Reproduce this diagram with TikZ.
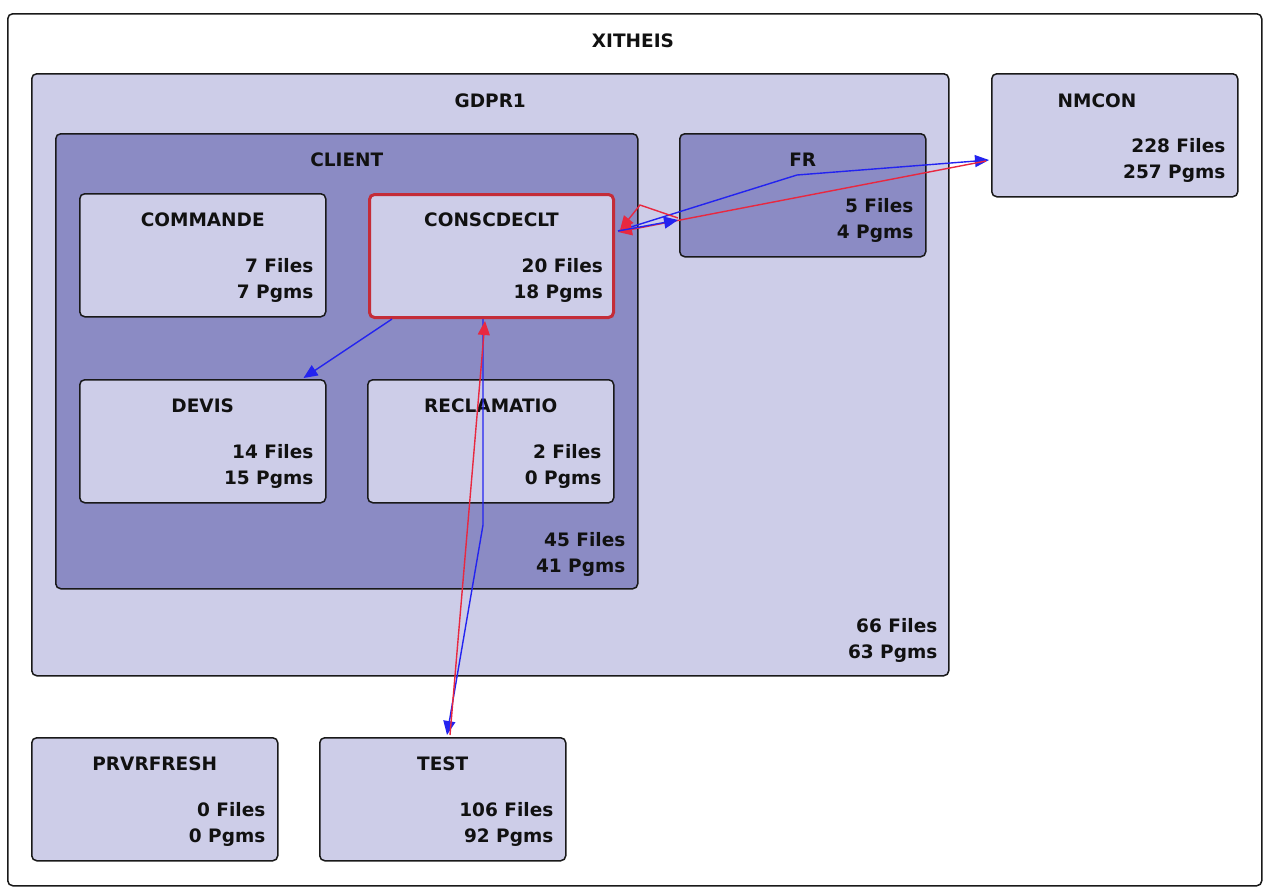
\documentclass[tikz,border=0pt]{standalone}
\usepackage{fontspec}
\setmainfont{DejaVu Sans}
\usetikzlibrary{arrows.meta,calc}
\definecolor{lightlav}{RGB}{205,205,232}
\definecolor{darklav}{RGB}{139,139,196}
\definecolor{boxred}{RGB}{196,44,56}
\definecolor{arrblue}{RGB}{35,35,240}
\definecolor{arrred}{RGB}{232,40,64}
\definecolor{txt}{RGB}{17,17,17}
\begin{document}
\begin{tikzpicture}[x=1pt,y=-1pt,
  boxbase/.style={draw=black!90,line width=1.5pt,rounded corners=5pt,inner sep=0pt,anchor=north west},
  lbox/.style={boxbase,fill=lightlav},
  dbox/.style={boxbase,fill=darklav},
  ttl/.style={anchor=base,font=\fontsize{18.5}{20}\selectfont\bfseries,text=txt,inner sep=0pt},
  num/.style={anchor=base east,font=\fontsize{18.5}{20}\selectfont\bfseries,text=txt,inner sep=0pt},
  bluearr/.style={draw=arrblue,line width=1.4pt,-{Triangle[length=14pt,width=12pt]}},
  redarr/.style={draw=arrred,line width=1.4pt,-{Triangle[length=14pt,width=12pt]}}
]
\useasboundingbox (0,0) rectangle (1268,894);
\fill[white] (0,0) rectangle (1268,894);
% outer
\node[boxbase,fill=white,minimum width=1254pt,minimum height=872pt] (xitheis) at (7,13) {};
\node[ttl] (xitheis-t) at (633,47.5) {XITHEIS};
% GDPR1
\node[lbox,minimum width=917pt,minimum height=602pt] (gdpr) at (31,73) {};
\node[ttl] (gdpr-t) at ([yshift=-34.5pt]gdpr.north) {GDPR1};
\node[num] (gdpr-f) at ([xshift=-12pt,yshift=44.5pt]gdpr.south east) {66 Files};
\node[num] (gdpr-p) at ([xshift=-12pt,yshift=18.5pt]gdpr.south east) {63 Pgms};
% NMCON
\node[lbox,minimum width=246pt,minimum height=123pt] (nmcon) at (991,73) {};
\node[ttl] (nmcon-t) at (1097,107.5) {NMCON};
\node[num] (nmcon-f) at ([xshift=-13pt,yshift=-79.5pt]nmcon.north east) {228 Files};
\node[num] (nmcon-p) at ([xshift=-13pt,yshift=-105.5pt]nmcon.north east) {257 Pgms};
% CLIENT
\node[dbox,minimum width=582pt,minimum height=455pt] (client) at (55,133) {};
\node[ttl] (client-t) at ([yshift=-33.5pt]client.north) {CLIENT};
\node[num] (client-f) at ([xshift=-13pt,yshift=43.5pt]client.south east) {45 Files};
\node[num] (client-p) at ([xshift=-13pt,yshift=17.5pt]client.south east) {41 Pgms};
% FR
\node[dbox,minimum width=246pt,minimum height=123pt] (fr) at (679,133) {};
\node[ttl] (fr-t) at ([yshift=-33.5pt]fr.north) {FR};
\node[num] (fr-f) at ([xshift=-13pt,yshift=-79.5pt]fr.north east) {5 Files};
\node[num] (fr-p) at ([xshift=-13pt,yshift=-105.5pt]fr.north east) {4 Pgms};
% COMMANDE
\node[lbox,minimum width=246pt,minimum height=123pt] (commande) at (79,193) {};
\node[ttl] (commande-t) at ([yshift=-33.5pt]commande.north) {COMMANDE};
\node[num] (commande-f) at ([xshift=-13pt,yshift=-79.5pt]commande.north east) {7 Files};
\node[num] (commande-p) at ([xshift=-13pt,yshift=-105.5pt]commande.north east) {7 Pgms};
% CONSCDECLT
\node[lbox,draw=boxred,line width=3pt,minimum width=244pt,minimum height=123pt] (cons) at (368,193) {};
\node[ttl] (cons-t) at ([yshift=-33.5pt]cons.north) {CONSCDECLT};
\node[num] (cons-f) at ([xshift=-12pt,yshift=-79.5pt]cons.north east) {20 Files};
\node[num] (cons-p) at ([xshift=-12pt,yshift=-105.5pt]cons.north east) {18 Pgms};
% DEVIS
\node[lbox,minimum width=246pt,minimum height=123pt] (devis) at (79,379) {};
\node[ttl] (devis-t) at ([yshift=-33.5pt]devis.north) {DEVIS};
\node[num] (devis-f) at ([xshift=-13pt,yshift=-79.5pt]devis.north east) {14 Files};
\node[num] (devis-p) at ([xshift=-13pt,yshift=-105.5pt]devis.north east) {15 Pgms};
% RECLAMATIO
\node[lbox,minimum width=246pt,minimum height=123pt] (recl) at (367,379) {};
\node[ttl] (recl-t) at ([yshift=-33.5pt]recl.north) {RECLAMATIO};
\node[num] (recl-f) at ([xshift=-13pt,yshift=-79.5pt]recl.north east) {2 Files};
\node[num] (recl-p) at ([xshift=-13pt,yshift=-105.5pt]recl.north east) {0 Pgms};
% PRVRFRESH
\node[lbox,minimum width=246pt,minimum height=123pt] (prvr) at (31,737) {};
\node[ttl] (prvr-t) at ([yshift=-33.5pt]prvr.north) {PRVRFRESH};
\node[num] (prvr-f) at ([xshift=-13pt,yshift=-79.5pt]prvr.north east) {0 Files};
\node[num] (prvr-p) at ([xshift=-13pt,yshift=-105.5pt]prvr.north east) {0 Pgms};
% TEST
\node[lbox,minimum width=246pt,minimum height=123pt] (test) at (319,737) {};
\node[ttl] (test-t) at ([yshift=-33.5pt]test.north) {TEST};
\node[num] (test-f) at ([xshift=-13pt,yshift=-79.5pt]test.north east) {106 Files};
\node[num] (test-p) at ([xshift=-13pt,yshift=-105.5pt]test.north east) {92 Pgms};
% bend points
\coordinate (b1) at (797,175);
\coordinate (b2) at (640,205);
\coordinate (b3) at (483,525);
% connectors
\draw[bluearr] ([xshift=24pt]cons.south west) -- ([xshift=-23pt,yshift=1pt]devis.north east);
\draw[bluearr] ([xshift=115pt]cons.south west) -- (b3) -- ([xshift=128pt,yshift=2pt]test.north west);
\draw[redarr] ([xshift=131pt,yshift=2pt]test.north west) -- ([xshift=117pt,yshift=-2pt]cons.south west);
\draw[bluearr] ([xshift=3pt,yshift=-38pt]cons.north east) -- (b1) -- ([xshift=-2pt,yshift=-87pt]nmcon.north west);
\draw[redarr] ([xshift=-5pt,yshift=-88pt]nmcon.north west) -- ([xshift=3pt,yshift=-39pt]cons.north east);
\draw[bluearr] ([xshift=3pt,yshift=-38pt]cons.north east) -- ([xshift=-1pt,yshift=-87pt]fr.north west);
\draw[redarr] ([xshift=-1pt,yshift=-85pt]fr.north west) -- (b2) -- ([xshift=5pt,yshift=-37pt]cons.north east);
\end{tikzpicture}
\end{document}
